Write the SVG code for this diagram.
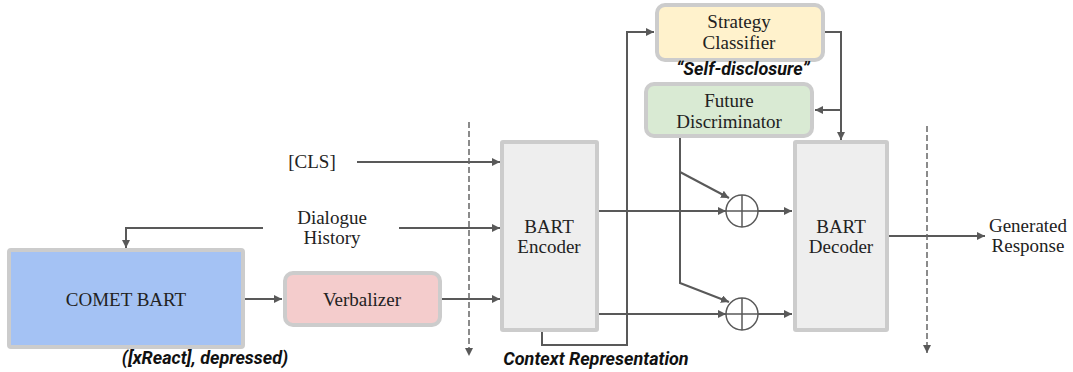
<svg xmlns="http://www.w3.org/2000/svg" width="1073" height="372" viewBox="0 0 1073 372">
<style>
.box{stroke:#cccccc;stroke-width:4}
.t{font-family:"Liberation Serif","DejaVu Serif",serif;font-size:19px;fill:#222;text-anchor:middle}
.l{font-family:Roboto,"Liberation Sans",sans-serif;font-size:18px;font-weight:bold;font-style:italic;fill:#111;text-anchor:middle}
.c{fill:none;stroke:#595959;stroke-width:2}
.d{fill:none;stroke:#666;stroke-width:1.5;stroke-dasharray:6,3}
</style>
<defs>
<marker id="a" viewBox="0 0 10 10" refX="10" refY="5" markerWidth="8" markerHeight="8" markerUnits="userSpaceOnUse" orient="auto">
<path d="M0,0 L10,5 L0,10 z" fill="#595959"/>
</marker>
</defs>
<rect width="1073" height="372" fill="#fff"/>
<g id="connectors">
<path class="c" d="M357,162 H500" marker-end="url(#a)"/>
<path class="c" d="M263,228 H126 V248" marker-end="url(#a)"/>
<path class="c" d="M399,228 H500" marker-end="url(#a)"/>
<path class="c" d="M245,299 H282" marker-end="url(#a)"/>
<path class="c" d="M442,299 H500" marker-end="url(#a)"/>
<path class="c" d="M598,211 H726" marker-end="url(#a)"/>
<path class="c" d="M758,211 H792" marker-end="url(#a)"/>
<path class="c" d="M598,314 H726" marker-end="url(#a)"/>
<path class="c" d="M758,314 H792" marker-end="url(#a)"/>
<path class="c" d="M542,332 V345 H627 V32 H654" marker-end="url(#a)"/>
<path class="c" d="M825,32 H841 V140" marker-end="url(#a)"/>
<path class="c" d="M841,110 H815" marker-end="url(#a)"/>
<path class="c" d="M680,138 V283 L729,302" marker-end="url(#a)"/>
<path class="c" d="M680,172 L729,198" marker-end="url(#a)"/>
<path class="c" d="M889,236 H985" marker-end="url(#a)"/>
<path class="d" d="M469,122 V356" marker-end="url(#a)"/>
<path class="d" d="M927,126 V353" marker-end="url(#a)"/>
</g>
<g id="plus1">
<circle cx="742" cy="211" r="16" fill="#fff" stroke="#595959" stroke-width="1.5"/>
<path d="M726,211 H758 M742,195 V227" stroke="#595959" stroke-width="1.5"/>
</g>
<g id="plus2">
<circle cx="742" cy="314" r="16" fill="#fff" stroke="#595959" stroke-width="1.5"/>
<path d="M726,314 H758 M742,298 V330" stroke="#595959" stroke-width="1.5"/>
</g>
<g id="cls"><text class="t" x="312" y="168">[CLS]</text></g>
<g id="dialogue"><text class="t" x="332" y="224">Dialogue</text><text class="t" x="332" y="244">History</text></g>
<g id="comet">
<rect class="box" x="9" y="250" width="234" height="97" rx="2" fill="#a4c2f4"/>
<text class="t" x="126" y="306">COMET BART</text>
<text class="l" x="205" y="364">([xReact], depressed)</text>
</g>
<g id="verbalizer">
<rect class="box" x="285" y="273" width="155" height="52" rx="8" fill="#f4cccc"/>
<text class="t" x="362" y="306">Verbalizer</text>
</g>
<g id="encoder">
<rect class="box" x="502" y="142" width="95" height="188" rx="1" fill="#eeeeee"/>
<text class="t" x="549" y="233">BART</text>
<text class="t" x="549" y="253">Encoder</text>
<text class="l" x="596" y="365">Context Representation</text>
</g>
<g id="strategy">
<rect class="box" x="657" y="5" width="166" height="55" rx="8" fill="#fff2cc"/>
<text class="t" x="739" y="28">Strategy</text>
<text class="t" x="739" y="49">Classifier</text>
<text class="l" x="743" y="75">“Self-disclosure”</text>
</g>
<g id="future">
<rect class="box" x="646" y="84" width="166" height="52" rx="8" fill="#d9ead3"/>
<text class="t" x="729" y="107">Future</text>
<text class="t" x="729" y="128">Discriminator</text>
</g>
<g id="decoder">
<rect class="box" x="795" y="142" width="92" height="188" rx="1" fill="#eeeeee"/>
<text class="t" x="841" y="233">BART</text>
<text class="t" x="841" y="253">Decoder</text>
</g>
<g id="output"><text class="t" x="1028" y="232">Generated</text><text class="t" x="1028" y="252">Response</text></g>
</svg>
